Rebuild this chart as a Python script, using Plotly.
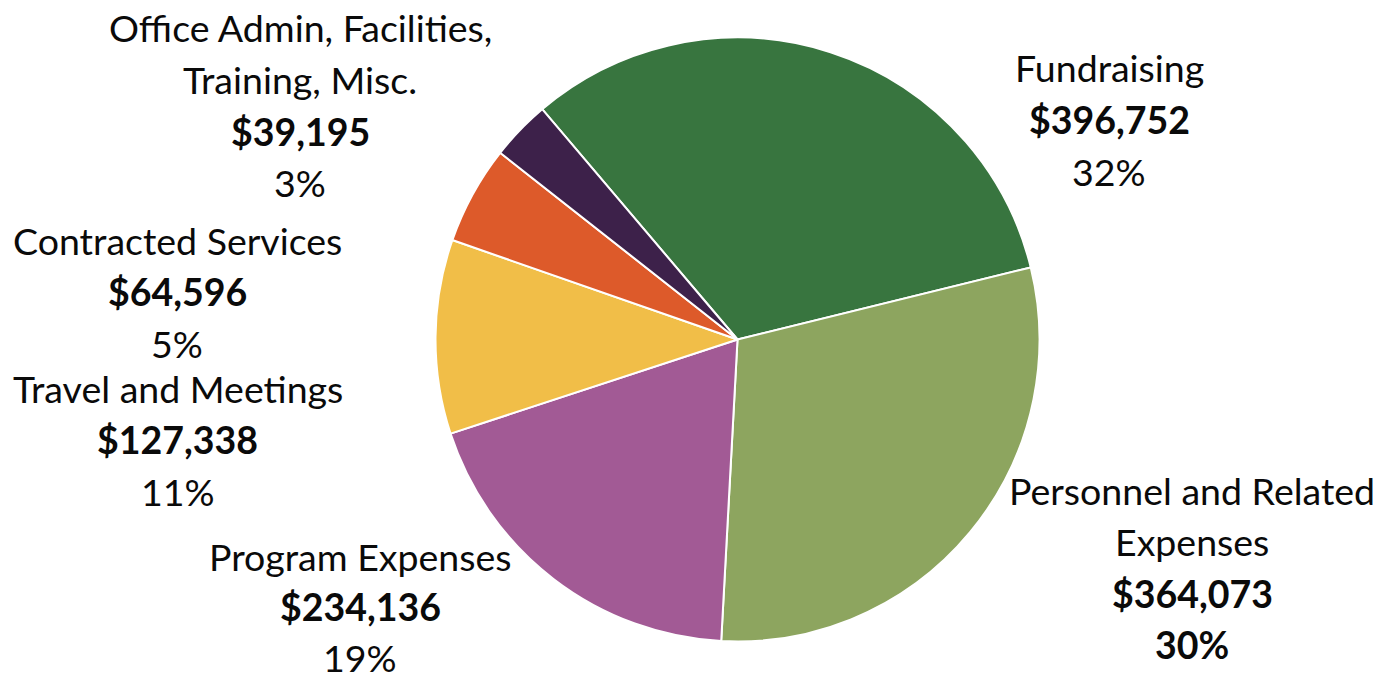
import plotly.graph_objects as go

W, H = 1390, 676

categories = ["Fundraising", "Personnel and Related Expenses", "Program Expenses",
              "Travel and Meetings", "Contracted Services", "Office Admin, Facilities, Training, Misc."]
values = [396752, 364073, 234136, 127338, 64596, 39195]
pct_labels = ["32%", "30%", "19%", "11%", "5%", "3%"]
name_lines = [["Fundraising"], ["Personnel and Related", "Expenses"], ["Program Expenses"],
              ["Travel and Meetings"], ["Contracted Services"], ["Office Admin, Facilities,", "Training, Misc."]]
colors = ["#38753F", "#8DA55F", "#A25A95", "#F1BE48", "#DD5A2A", "#3D214A"]
pct_bold = [False, True, False, False, False, False]

# layout: label block centre x (px) and first-line y (px)
label_pos = [(1109, 68), (1192, 490), (360, 556), (178, 388), (177, 240), (300, 28)]
line_gaps = [51.5, 51.5, 50.5, 51.5, 51.5, 51.5]
font_size = 37.5

cx, cy, r = 737.5, 339.5, 302

fig = go.Figure(go.Pie(
    labels=categories, values=values, sort=False, direction="clockwise",
    rotation=-40.3, textinfo="none", hoverinfo="label+value+percent",
    marker=dict(colors=colors, line=dict(color="white", width=2)),
    domain=dict(x=[(cx - r) / W, (cx + r) / W], y=[(H - cy - r) / H, (H - cy + r) / H]),
    showlegend=False,
))

annotations = []
for i in range(len(categories)):
    lines = list(name_lines[i]) + [f"<b>${values[i]:,}</b>",
                                   f"<b>{pct_labels[i]}</b>" if pct_bold[i] else pct_labels[i]]
    x0, y0 = label_pos[i]
    for j, t in enumerate(lines):
        y = y0 + j * line_gaps[i]
        annotations.append(dict(x=x0 / W, y=1 - y / H, xref="paper", yref="paper", text=t,
                                showarrow=False, xanchor="center", yanchor="middle",
                                font=dict(family="Lato", size=font_size, color="#0a0a0a")))

fig.update_layout(width=W, height=H, margin=dict(l=0, r=0, t=0, b=0),
                  paper_bgcolor="white", plot_bgcolor="white", annotations=annotations)
fig.write_html("out.html", config={"displayModeBar": False},
               post_script="document.body.style.margin='0';document.body.style.overflow='hidden';")
